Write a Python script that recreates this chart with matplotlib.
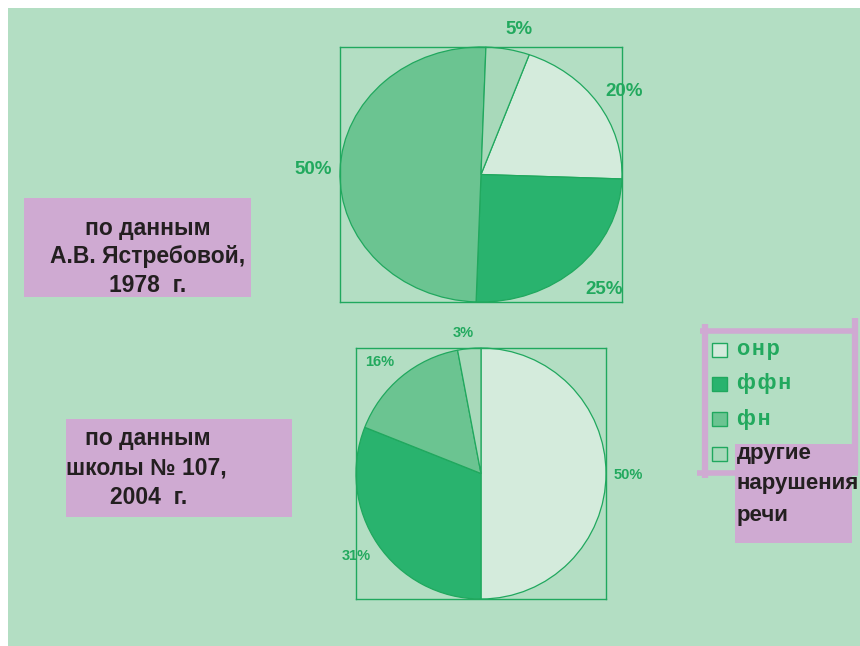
import matplotlib.pyplot as plt
from matplotlib.patches import Rectangle

plt.rcParams['font.family'] = ['Liberation Sans', 'DejaVu Sans']

# data
categories = ['онр', 'ффн', 'фн', 'другие нарушения речи']
values_1978 = [20, 25, 50, 5]
values_2004 = [50, 31, 16, 3]
labels_1978 = ['20%', '25%', '50%', '5%']
labels_2004 = ['50%', '31%', '16%', '3%']
caption_1978 = ['по данным', 'А.В. Ястребовой,', '1978  г.']
caption_2004 = ['по данным', 'школы № 107,', '2004  г.']

colors = ['#D4EBDC', '#29B36E', '#6BC491', '#A8D9BA']
edge = '#20A85E'
green_txt = '#22A95E'
pink = '#CFAAD2'
bg = '#B3DEC3'
W, H = 860, 646

fig = plt.figure(figsize=(W / 100, H / 100), dpi=100, facecolor='white')

# background
ax_bg = fig.add_axes([0, 0, 1, 1])
ax_bg.set_xlim(0, W)
ax_bg.set_ylim(H, 0)
ax_bg.axis('off')
ax_bg.add_patch(Rectangle((8, 8), W - 8, H - 8, facecolor=bg, edgecolor='none'))


def pie_axes(x0, y0, x1, y1, vals, start):
    ax = fig.add_axes([x0 / W, 1 - y1 / H, (x1 - x0) / W, (y1 - y0) / H])
    ax.pie(vals, colors=colors, startangle=start, counterclock=False,
           wedgeprops=dict(edgecolor=edge, linewidth=0.9))
    ax.set_aspect('auto')
    ax.set_xlim(-1, 1)
    ax.set_ylim(-1, 1)
    ax.set_frame_on(True)
    ax.patch.set_alpha(0)
    ax.set_xticks([])
    ax.set_yticks([])
    for s in ax.spines.values():
        s.set_visible(True)
        s.set_color(edge)
        s.set_linewidth(1.0)
    return ax


pie_axes(340, 47, 622, 302, values_1978, 70)
pie_axes(356, 348, 606, 599, values_2004, 90)

# overlay for text and legend
ov = fig.add_axes([0, 0, 1, 1])
ov.set_xlim(0, W)
ov.set_ylim(H, 0)
ov.axis('off')
ov.patch.set_alpha(0)

# pie labels
pos_1978 = [(624, 91), (604, 289), (313, 170), (519, 30)]
for (x, y), t in zip(pos_1978, labels_1978):
    ov.text(x, y, t, color=green_txt, fontsize=13.5, fontweight='bold',
            ha='center', va='center')
pos_2004 = [(628, 475), (356, 556), (380, 362), (463, 333)]
for (x, y), t in zip(pos_2004, labels_2004):
    ov.text(x, y, t, color=green_txt, fontsize=10.5, fontweight='bold',
            ha='center', va='center')

# caption boxes
ov.add_patch(Rectangle((24, 198), 227, 99, facecolor=pink, edgecolor='none'))
for y, t in zip([228, 257, 285], caption_1978):
    ov.text(148, y, t, color='#231F20', fontsize=16.5, fontweight='bold',
            ha='center', va='center')

ov.add_patch(Rectangle((66, 419), 226, 98, facecolor=pink, edgecolor='none'))
for (x, y), t in zip([(85, 438), (66, 468), (110, 498)], caption_2004):
    ov.text(x, y, t, color='#231F20', fontsize=16.5, fontweight='bold',
            ha='left', va='center')

# legend frame
ov.add_patch(Rectangle((735, 444), 117, 99, facecolor=pink, edgecolor='none'))
ov.plot([705, 705], [324, 478], color=pink, lw=4.5, solid_capstyle='butt')
ov.plot([700, 858], [330.5, 330.5], color=pink, lw=4, solid_capstyle='butt')
ov.plot([855, 855], [318, 473], color=pink, lw=4.5, solid_capstyle='butt')
ov.plot([697, 858], [472.5, 472.5], color=pink, lw=4, solid_capstyle='butt')

leg_y = [350, 384, 419, 454]
for y, c, name in zip(leg_y, colors, categories):
    ov.add_patch(Rectangle((712, y - 7), 15, 14, facecolor=c, edgecolor=edge, lw=1))
for y, name in zip(leg_y[:3], categories[:3]):
    ov.text(737, y, '\u200a'.join(name), color=green_txt,
            fontsize=15.5, fontweight='bold', ha='left', va='center')
for y, t in zip([453, 484, 515], categories[3].split()):
    ov.text(737, y, t, color='#231F20', fontsize=16, fontweight='bold',
            ha='left', va='center')

fig.savefig('out.png', dpi=100, facecolor='white')
